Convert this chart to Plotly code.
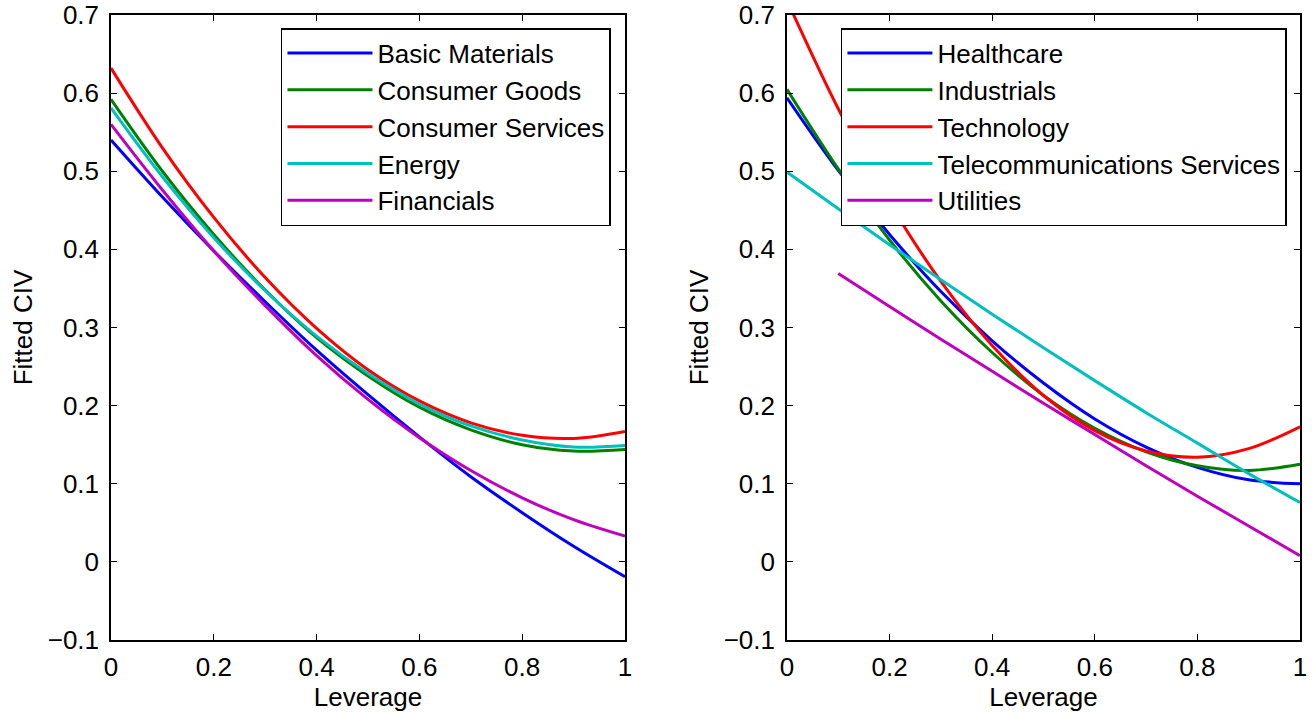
import plotly.graph_objects as go
from plotly.subplots import make_subplots

# ---- data ----
leverage = [0.0, 0.1, 0.2, 0.3, 0.4, 0.5, 0.6, 0.7, 0.8, 0.9, 1.0]
leverage_util = [0.1, 0.2, 0.3, 0.4, 0.5, 0.6, 0.7, 0.8, 0.9, 1.0]

basic_materials   = [0.540, 0.467, 0.398, 0.333, 0.271, 0.214, 0.160, 0.109, 0.063, 0.020, -0.019]
consumer_goods    = [0.592, 0.500, 0.419, 0.348, 0.287, 0.238, 0.198, 0.169, 0.150, 0.142, 0.144]
consumer_services = [0.632, 0.530, 0.441, 0.364, 0.299, 0.246, 0.206, 0.178, 0.162, 0.158, 0.167]
energy            = [0.581, 0.493, 0.415, 0.347, 0.289, 0.241, 0.202, 0.174, 0.156, 0.147, 0.149]
financials        = [0.560, 0.476, 0.398, 0.328, 0.264, 0.208, 0.159, 0.117, 0.082, 0.054, 0.033]

healthcare        = [0.594, 0.501, 0.419, 0.346, 0.283, 0.229, 0.183, 0.147, 0.121, 0.105, 0.100]
industrials       = [0.605, 0.503, 0.412, 0.334, 0.268, 0.213, 0.171, 0.141, 0.123, 0.117, 0.125]
technology        = [0.719, 0.580, 0.460, 0.359, 0.277, 0.213, 0.168, 0.142, 0.134, 0.145, 0.173]
telecom           = [0.499, 0.452, 0.406, 0.361, 0.317, 0.274, 0.232, 0.191, 0.152, 0.113, 0.076]
utilities         = [0.369, 0.327, 0.285, 0.244, 0.203, 0.163, 0.123, 0.084, 0.046, 0.008]

left_names = ["Basic Materials", "Consumer Goods", "Consumer Services", "Energy", "Financials"]
right_names = ["Healthcare", "Industrials", "Technology", "Telecommunications Services", "Utilities"]
colors = ["#0000FF", "#008000", "#FF0000", "#00BFBF", "#BF00BF"]

x_ticks = [0, 0.2, 0.4, 0.6, 0.8, 1]
y_ticks = [-0.1, 0, 0.1, 0.2, 0.3, 0.4, 0.5, 0.6, 0.7]

FONT = "Liberation Sans, Arial, Helvetica, sans-serif"
FS = 26

fig = make_subplots(rows=1, cols=2, horizontal_spacing=0.1363)

left_series = [basic_materials, consumer_goods, consumer_services, energy, financials]
right_series = [healthcare, industrials, technology, telecom, utilities]
right_x = [leverage, leverage, leverage, leverage, leverage_util]

for name, ys, c in zip(left_names, left_series, colors):
    fig.add_trace(go.Scatter(x=leverage, y=ys, mode="lines", name=name,
                             line=dict(color=c, width=3, shape="spline"),
                             legend="legend"), row=1, col=1)
for name, xs, ys, c in zip(right_names, right_x, right_series, colors):
    fig.add_trace(go.Scatter(x=xs, y=ys, mode="lines", name=name,
                             line=dict(color=c, width=3, shape="spline"),
                             legend="legend2"), row=1, col=2)

axis_common = dict(
    showline=True, linecolor="black", linewidth=1.5, mirror="ticks",
    ticks="inside", ticklen=6, tickwidth=1, tickcolor="black",
    showgrid=False, zeroline=False, automargin=False,
    ticklabeloverflow="allow",
    tickfont=dict(family=FONT, size=FS, color="black"),
)

for col, dom in [(1, [0.0, 0.4323]), (2, [0.5685, 1.0])]:
    fig.update_xaxes(range=[0, 1], tickvals=x_ticks, domain=dom, ticklabelstandoff=3,
                     title=dict(text="Leverage", font=dict(family=FONT, size=FS, color="black"), standoff=0),
                     **axis_common, row=1, col=col)
    fig.update_yaxes(range=[-0.1, 0.7], tickvals=y_ticks, ticklabelstandoff=5,
                     title=dict(text="Fitted CIV", font=dict(family=FONT, size=FS, color="black"), standoff=8),
                     **axis_common, row=1, col=col)

legend_common = dict(
    bgcolor="white", bordercolor="black", borderwidth=1.5,
    font=dict(family=FONT, size=FS, color="black"),
    xanchor="right", yanchor="top", itemwidth=85, tracegroupgap=0,
)

fig.update_layout(
    width=1316, height=717,
    margin=dict(l=111, r=16, t=15, b=77),
    paper_bgcolor="white", plot_bgcolor="white",
    showlegend=True,
    legend=dict(x=0.4205, y=0.979, **legend_common),
    legend2=dict(x=0.989, y=0.979, **legend_common),
)

# remove the default 8px page margin so the figure fills the window exactly
fig.write_html("out.html", config={"displayModeBar": False},
               post_script="document.body.style.margin='0px';")
